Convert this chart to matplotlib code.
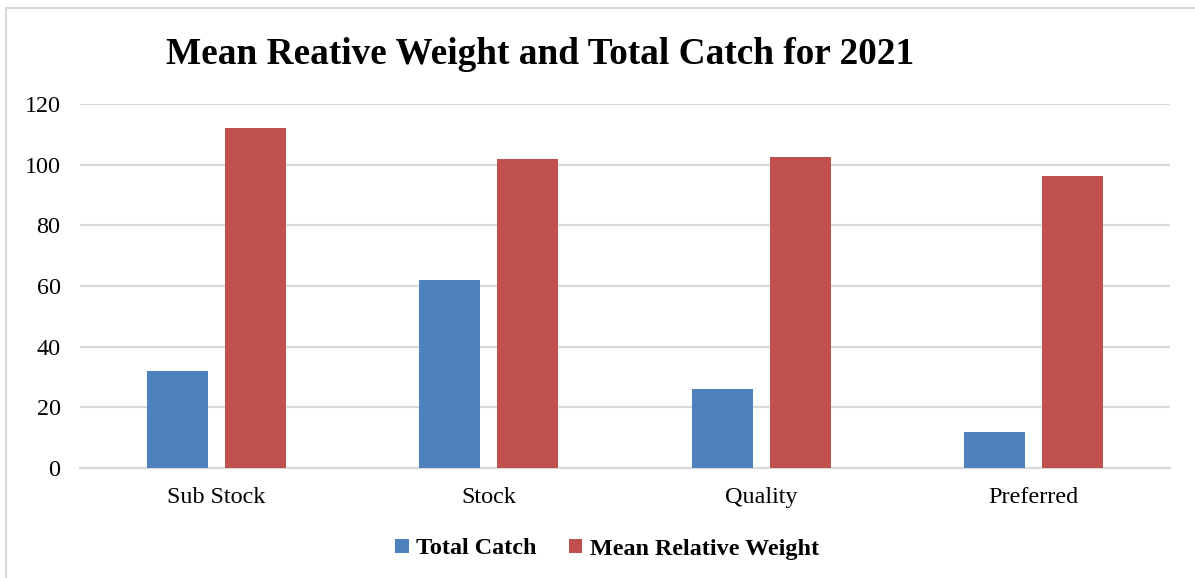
import matplotlib
matplotlib.use("Agg")
import matplotlib.pyplot as plt
from matplotlib.patches import Rectangle
import numpy as np

categories = ["Sub Stock", "Stock", "Quality", "Preferred"]
total_catch = [32, 62, 26, 12]
mean_relative_weight = [112, 102, 102.5, 96.4]
y_ticks = [0, 20, 40, 60, 80, 100, 120]

BLUE = "#4F81BD"
RED = "#C0504D"
GRID = "#D9D9D9"

plt.rcParams["font.family"] = ["Liberation Serif", "DejaVu Serif"]

W, H = 1195, 578
fig = plt.figure(figsize=(W / 100, H / 100), dpi=100)
ax = fig.add_axes([80 / W, 1 - 468 / H, (1170 - 80) / W, (468 - 104) / H])

x = np.arange(len(categories))
width = 0.224
offset = 0.143
ax.bar(x - offset, total_catch, width, color=BLUE, label="Total Catch", zorder=3)
ax.bar(x + offset, mean_relative_weight, width, color=RED, label="Mean Relative Weight", zorder=3)

ax.set_xlim(-0.5, len(categories) - 0.5)
ax.set_ylim(0, 120)
ax.set_yticks(y_ticks)
ax.set_xticks(x)
ax.set_xticklabels(categories)
ax.tick_params(axis="both", length=0, labelsize=17.4, colors="black")
ax.tick_params(axis="y", pad=14)
ax.tick_params(axis="x", pad=14)

ax.yaxis.grid(True, color=GRID, linewidth=1.6, zorder=0)
ax.set_axisbelow(True)
for side in ["top", "right", "left"]:
    ax.spines[side].set_visible(False)
ax.spines["bottom"].set_color(GRID)
ax.spines["bottom"].set_linewidth(1.6)

fig.text(540 / W, 1 - 54 / H, "Mean Reative Weight and Total Catch for 2021",
         ha="center", va="center", fontsize=26.8, fontweight="bold")

leg = fig.legend(loc="center", bbox_to_anchor=(607 / W, 1 - 549 / H), ncol=2,
                 frameon=False, prop={"size": 17.4, "weight": "bold"},
                 handlelength=0.55, handleheight=0.55, handletextpad=0.3,
                 columnspacing=1.35)

# outer chart frame
fig.patches.append(Rectangle((6.5 / W, -0.05), 1.2, 1 - 7.5 / H + 0.05,
                             transform=fig.transFigure, fill=False,
                             edgecolor=GRID, linewidth=1.6))

fig.savefig("out.png", dpi=100, facecolor="white")
